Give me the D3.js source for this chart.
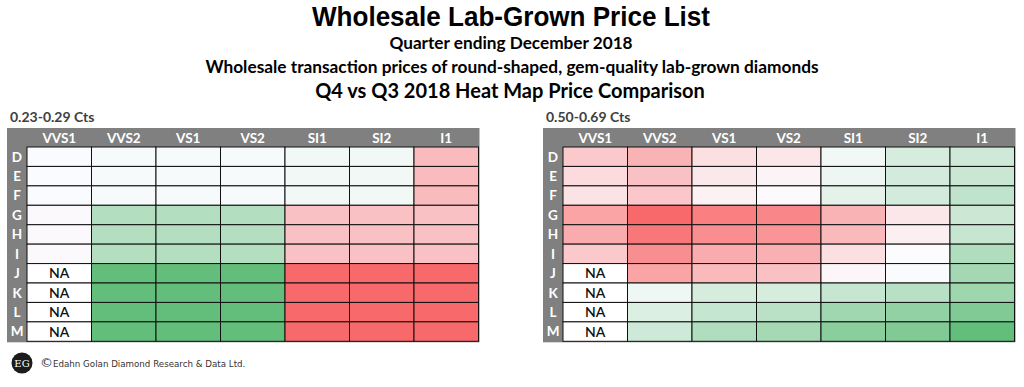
<!DOCTYPE html>
<html>
<head>
<meta charset="utf-8">
<script src="https://cdn.jsdelivr.net/npm/d3@7"></script>
<style>
  body { margin: 0; background: #fff; }
  svg { display: block; }
  text { font-family: Lato, "Open Sans", sans-serif; }
</style>
</head>
<body>
<svg id="chart" width="1024" height="387"></svg>
<script>
// clarity grades (columns) and colour grades (rows)
var clarities = ["VVS1", "VVS2", "VS1", "VS2", "SI1", "SI2", "I1"];
var colors = ["D", "E", "F", "G", "H", "I", "J", "K", "L", "M"];

// % price change Q4 vs Q3 (null = NA)
var small = [
  [0.1, 0.4, 0.4, 0.4, 0.7, 0.7, -4.4],
  [0.1, 0.4, 0.4, 0.4, 0.7, 0.7, -4.4],
  [0.1, 0.4, 0.4, 0.4, 0.7, 0.7, -4.4],
  [-0.2, 4.8, 4.8, 4.8, -4.0, -4.0, -4.0],
  [-0.2, 4.8, 4.8, 4.8, -4.0, -4.0, -4.0],
  [-0.2, 4.8, 4.8, 4.8, -4.0, -4.0, -4.0],
  [null, 10, 10, 10, -10, -10, -10],
  [null, 10, 10, 10, -10, -10, -10],
  [null, 10, 10, 10, -10, -10, -10],
  [null, 10, 10, 10, -10, -10, -10]
];
var half = [
  [-6.3, -9.0, -3.6, -2.7, 0.8, 3.0, 3.6],
  [-4.0, -7.2, -2.5, -1.1, 1.2, 3.2, 4.0],
  [-3.2, -6.5, -1.4, -0.2, 1.9, 3.2, 4.7],
  [-10.8, -18.0, -15.3, -14.4, -9.0, -2.7, 3.8],
  [-9.9, -16.2, -13.5, -12.6, -8.1, -1.6, 4.2],
  [-6.3, -13.5, -9.9, -9.4, -3.6, 0.0, 6.0],
  [null, -10.8, -8.1, -7.2, -0.7, 0.2, 7.0],
  [null, 1.0, 3.0, 3.0, 4.2, 5.4, 7.4],
  [null, 2.6, 4.3, 5.2, 7.2, 8.4, 9.6],
  [null, 3.6, 6.0, 6.8, 9.0, 9.6, 12.0]
];

var titleText = "Wholesale Lab-Grown Price List";
var subtitles = ["Quarter ending December 2018",
  "Wholesale transaction prices of round-shaped, gem-quality lab-grown diamonds"];
var chartTitle = "Q4 vs Q3 2018 Heat Map Price Comparison";
var footer = "Edahn Golan Diamond Research & Data Ltd.";

var svg = d3.select("#chart");

// titles
svg.append("text")
    .attr("x", 511).attr("y", 26)
    .attr("text-anchor", "middle")
    .attr("textLength", 398).attr("lengthAdjust", "spacingAndGlyphs")
    .style("font-family", "'Liberation Sans Narrow', 'Liberation Sans', Arial, sans-serif")
    .style("font-weight", "bold").style("font-size", "28px")
    .text(titleText);
svg.append("text")
    .attr("x", 511).attr("y", 49)
    .attr("text-anchor", "middle")
    .style("font-weight", "bold").style("font-size", "17.2px")
    .text(subtitles[0]);
svg.append("text")
    .attr("x", 512).attr("y", 73)
    .attr("text-anchor", "middle")
    .style("font-weight", "bold").style("font-size", "17.3px")
    .text(subtitles[1]);
svg.append("text")
    .attr("x", 510).attr("y", 98)
    .attr("text-anchor", "middle")
    .style("font-weight", "bold").style("font-size", "20px")
    .text(chartTitle);

function heatmap(left, label, data) {
  var top = 128, headH = 19, labW = 20;
  var gridX = left + labW, gridW = 451.5, gridY = top + headH, gridH = 194.3;

  // per-table colour scale (red - white - green), like Excel's 3 colour scale
  var vals = d3.merge(data).filter(function(v) { return v != null; });
  var color = d3.scaleLinear()
      .domain([d3.min(vals), 0, d3.max(vals)])
      .range(["#F8696B", "#FCFCFF", "#63BE7B"]);

  var x = d3.scaleBand().domain(clarities).range([gridX, gridX + gridW]);
  var y = d3.scaleBand().domain(colors).range([gridY, gridY + gridH]);

  svg.append("text")
      .attr("x", left + 3).attr("y", 122)
      .style("font-weight", "bold").style("font-size", "14px")
      .style("fill", "#404040")
      .text(label);

  svg.append("rect")
      .attr("x", left).attr("y", top)
      .attr("width", gridX + gridW + 1 - left).attr("height", gridY + gridH + 1 - top)
      .attr("fill", "#808080");

  var cells = [];
  data.forEach(function(row, i) {
    row.forEach(function(v, j) {
      cells.push({ r: colors[i], c: clarities[j], v: v });
    });
  });

  var g = svg.append("g");
  g.selectAll("rect")
    .data(cells)
    .join("rect")
      .attr("x", function(d) { return x(d.c); })
      .attr("y", function(d) { return y(d.r); })
      .attr("width", x.bandwidth())
      .attr("height", y.bandwidth())
      .attr("fill", function(d) { return d.v == null ? "#ffffff" : color(d.v); })
      .attr("stroke", "#111")
      .attr("stroke-width", 1);

  g.selectAll("text.na")
    .data(cells.filter(function(d) { return d.v == null; }))
    .join("text")
      .attr("class", "na")
      .attr("x", function(d) { return x(d.c) + x.bandwidth() / 2; })
      .attr("y", function(d) { return y(d.r) + y.bandwidth() / 2 + 5; })
      .attr("text-anchor", "middle")
      .style("font-size", "14px").style("font-weight", "600").style("fill", "#111")
      .text("NA");

  // column header
  var xAxis = svg.append("g")
      .attr("transform", "translate(0," + (gridY - 4) + ")")
      .call(d3.axisTop(x).tickSize(0).tickPadding(0));
  // row labels
  var yAxis = svg.append("g")
      .attr("transform", "translate(" + (left + labW / 2) + ",0)")
      .call(d3.axisLeft(y).tickSize(0).tickPadding(0));
  yAxis.selectAll("text").attr("text-anchor", "middle").attr("dy", "0.36em");
  [xAxis, yAxis].forEach(function(a) {
    a.select(".domain").remove();
    a.selectAll("text")
      .style("font-family", "Lato, sans-serif")
      .style("font-weight", "bold").style("font-size", "13.5px")
      .style("fill", "#ffffff");
  });
}

heatmap(7, "0.23-0.29 Cts", small);
heatmap(543, "0.50-0.69 Cts", half);

// footer with logo
svg.append("circle").attr("cx", 22).attr("cy", 363).attr("r", 10.5).attr("fill", "#1c1c1c");
svg.append("text")
    .attr("x", 22).attr("y", 367)
    .attr("text-anchor", "middle")
    .style("font-family", "'DejaVu Serif', 'Liberation Serif', serif")
    .style("font-size", "10px").style("fill", "#fff")
    .text("EG");
var ft = svg.append("text")
    .attr("x", 40).attr("y", 367)
    .style("font-family", "'DejaVu Sans', Verdana, sans-serif")
    .style("font-size", "8.7px").style("fill", "#333");
ft.append("tspan").style("font-size", "13px").text("\u00A9");
ft.append("tspan").text(footer);
</script>
</body>
</html>
